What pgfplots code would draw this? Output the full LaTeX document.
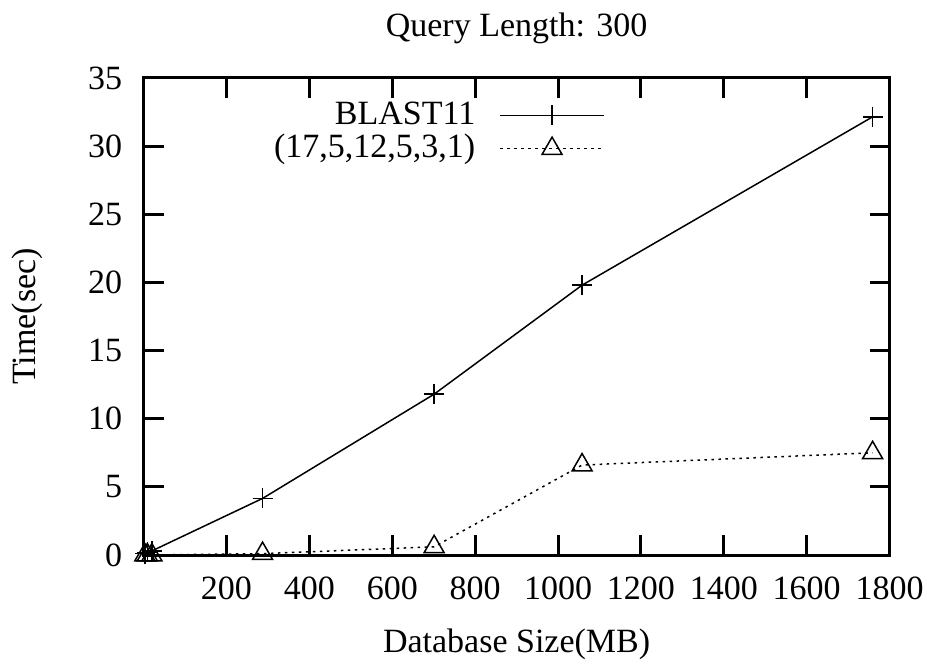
\documentclass[border=0pt]{standalone}
\usepackage{pgfplots}
\pgfplotsset{compat=1.18}
\usepackage{fontspec}
\setmainfont{Liberation Serif}
\begin{document}
\fontsize{34}{40}\selectfont
\begin{tikzpicture}
\useasboundingbox (-143.6pt,-107pt) rectangle (793.4pt,555pt);
\begin{axis}[
  at={(0pt,0pt)}, anchor=south west,
  scale only axis,
  width=746pt, height=477pt,
  xmin=0, xmax=1800, ymin=0, ymax=35,
  xtick={200,400,...,1800},
  ytick={0,5,...,35},
  /pgf/number format/assume math mode=true,
  /pgf/number format/1000 sep={},
  tick align=inside,
  major tick length=20pt,
  axis line style={line width=3pt},
  every tick/.style={line width=3pt, black},
  tick label style={font=\fontsize{34}{40}\selectfont},
  xticklabel style={yshift=-10pt},
  yticklabel style={xshift=-10pt},
  label style={font=\fontsize{34}{40}\selectfont},
  title style={font=\fontsize{34}{40}\selectfont, yshift=17pt},
  title={Query Length: 300},
  xlabel={Database Size(MB)},
  ylabel={Time(sec)},
  xlabel style={yshift=-7pt},
  ylabel style={yshift=22pt},
  legend plot pos=right,
  legend cell align=right,
  legend style={draw=none, fill=none, at={(0.6185,0.955)}, anchor=north east,
    font=\fontsize{34}{40}\selectfont, row sep=1pt, inner sep=0pt,
    /tikz/every odd column/.append style={column sep=22pt}},
  legend image code/.code={\draw[mark repeat=2,mark phase=2,#1] plot coordinates {(0pt,0pt) (52pt,0pt) (104pt,0pt)};},
]
\addplot[black, line width=1.5pt, mark=+, mark size=10pt, mark options={line width=1.5pt, solid}]
  coordinates {(3,0.1) (9,0.2) (20,0.3) (287,4.15) (701,11.8) (1058,19.8) (1759,32.15)};
\addlegendentry{BLAST11}
\addplot[black, line width=1.5pt, dash pattern=on 2.5pt off 4.5pt, mark=triangle, mark size=11.5pt, mark options={line width=1.5pt, solid}]
  coordinates {(3,0.0) (9,0.0) (20,0.0) (287,0.1) (701,0.6) (1058,6.6) (1759,7.5)};
\addlegendentry{(17,5,12,5,3,1)}
\end{axis}
\end{tikzpicture}
\end{document}
